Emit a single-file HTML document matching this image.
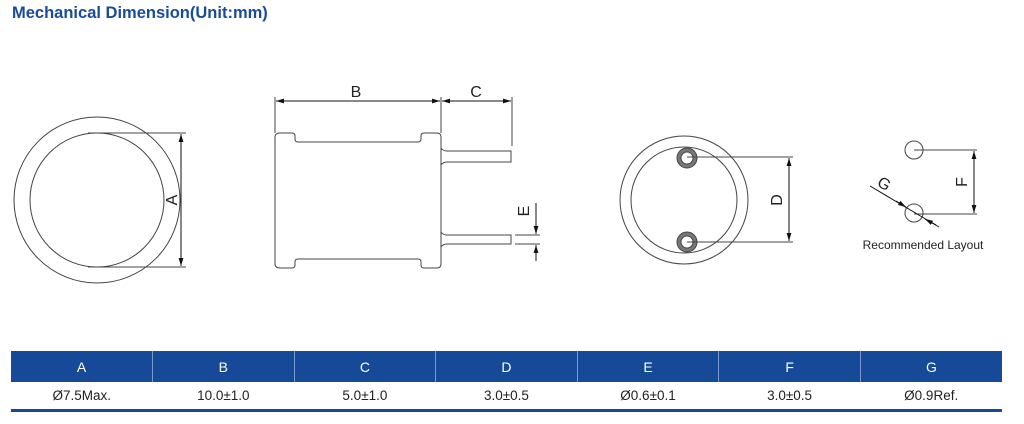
<!DOCTYPE html>
<html><head><style>
body{margin:0;width:1024px;height:424px;background:#fff;overflow:hidden;font-family:"Liberation Sans",sans-serif;position:relative}
.t{position:absolute;left:12px;top:4px;font-size:16.5px;font-weight:bold;color:#1a4b9b}
table{position:absolute;left:11px;top:351px;width:991px;border-collapse:collapse;table-layout:fixed;font-size:13.5px}
th{background:#164a99;color:#fff;font-weight:normal;height:31px;border-left:1px solid #7a9ad0;padding:0;font-size:14px}
th:first-child{border-left:none}
td{height:27px;text-align:center;color:#222;border-bottom:3px solid #164a99;padding:0}
</style></head><body>
<div class="t">Mechanical Dimension(Unit:mm)</div>
<svg width="1024" height="340" style="position:absolute;left:0;top:0" font-family="Liberation Sans, sans-serif">
<defs><marker id="a" viewBox="0 0 10 6" refX="10" refY="3" markerWidth="8" markerHeight="5" orient="auto-start-reverse"><path d="M0,0L10,3L0,6z" fill="#111"/></marker></defs>
<g fill="none" stroke="#444" stroke-width="1">
<circle cx="97" cy="200" r="83"/><circle cx="97" cy="200" r="67"/>
<line x1="88" y1="133" x2="186" y2="133"/><line x1="88" y1="267" x2="186" y2="267"/>
<line x1="181" y1="134" x2="181" y2="266" stroke="#111" marker-start="url(#a)" marker-end="url(#a)"/>
<path d="M280,133 H292 Q295,133 295,136 V139 Q295,142 298,142 H418 Q421,142 421,139 V136 Q421,133 424,133 H437 Q441,133 441,137 V264 Q441,268 437,268 H424 Q421,268 421,265 V262 Q421,259 418,259 H298 Q295,259 295,262 V265 Q295,268 292,268 H280 Q275,268 275,264 V137 Q275,133 280,133Z"/>
<path d="M441,148 Q443,151 447,151 H511 V162 H447 Q443,162 441,165"/>
<path d="M441,232 Q443,235 447,235 H511 V244 H447 Q443,244 441,247"/>
<line x1="275" y1="97" x2="275" y2="133"/><line x1="441" y1="97" x2="441" y2="133"/><line x1="512" y1="97" x2="512" y2="146"/>
<line x1="276" y1="101" x2="440" y2="101" stroke="#111" marker-start="url(#a)" marker-end="url(#a)"/>
<line x1="442" y1="101" x2="511" y2="101" stroke="#111" marker-start="url(#a)" marker-end="url(#a)"/>
<line x1="515" y1="235" x2="540" y2="235"/><line x1="515" y1="244" x2="540" y2="244"/>
<line x1="536" y1="203" x2="536" y2="234" stroke="#111" marker-end="url(#a)"/>
<line x1="536" y1="261" x2="536" y2="245" stroke="#111" marker-end="url(#a)"/>
<circle cx="684" cy="200" r="64"/><circle cx="684" cy="200" r="53"/>
<circle cx="687" cy="158" r="8" stroke="#777" stroke-width="4"/><circle cx="687" cy="242" r="8" stroke="#777" stroke-width="4"/>
<circle cx="687" cy="158" r="10"/><circle cx="687" cy="242" r="10"/>
<circle cx="687" cy="158" r="6"/><circle cx="687" cy="242" r="6"/>
<line x1="687" y1="157" x2="793" y2="157"/><line x1="687" y1="242" x2="793" y2="242"/>
<line x1="789" y1="158" x2="789" y2="241" stroke="#111" marker-start="url(#a)" marker-end="url(#a)"/>
<circle cx="914" cy="150" r="9"/><circle cx="914" cy="213" r="9"/>
<line x1="914" y1="150" x2="977" y2="150"/><line x1="914" y1="214" x2="977" y2="214"/>
<line x1="974" y1="151" x2="974" y2="213" stroke="#111" marker-start="url(#a)" marker-end="url(#a)"/>
<line x1="870" y1="186" x2="939" y2="227" stroke="#111"/>
<line x1="896" y1="201" x2="906" y2="207" stroke="#111" marker-end="url(#a)"/>
<line x1="936" y1="225" x2="925" y2="219" stroke="#111" marker-end="url(#a)"/>
</g>
<g font-size="16" fill="#222" text-anchor="middle">
<text x="172" y="200" transform="rotate(-90 172 200)" dy="5">A</text>
<text x="356" y="97">B</text>
<text x="476" y="97">C</text>
<text x="524" y="211" transform="rotate(-90 524 211)" dy="5">E</text>
<text x="777" y="200" transform="rotate(-90 777 200)" dy="5">D</text>
<text x="962" y="182" transform="rotate(-90 962 182)" dy="5">F</text>
<text x="884" y="184" transform="rotate(30 884 184)" dy="5">G</text>
<text x="923" y="249" font-size="12">Recommended Layout</text>
</g>
</svg>
<table><tr><th>A</th><th>B</th><th>C</th><th>D</th><th>E</th><th>F</th><th>G</th></tr>
<tr><td>Ø7.5Max.</td><td>10.0±1.0</td><td>5.0±1.0</td><td>3.0±0.5</td><td>Ø0.6±0.1</td><td>3.0±0.5</td><td>Ø0.9Ref.</td></tr></table>
</body></html>
